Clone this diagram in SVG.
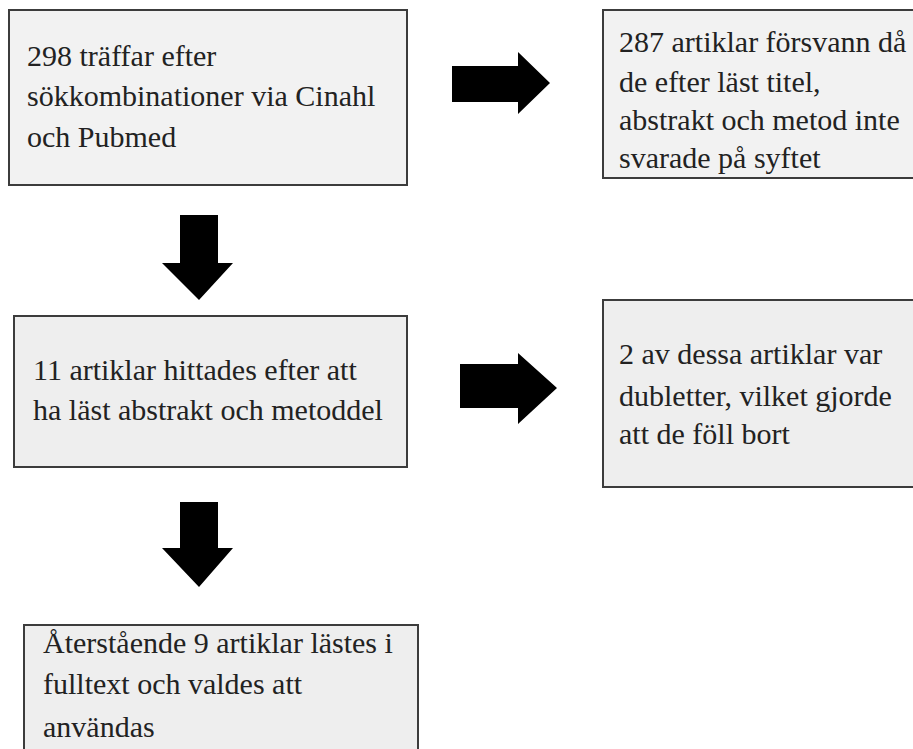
<svg xmlns="http://www.w3.org/2000/svg" width="913" height="749" viewBox="0 0 913 749">
<style>
.box{stroke:#3c3c3c;stroke-width:2}
.a{fill:#f2f2f2}
.b{fill:#eeeeee}
.t{font-family:'Liberation Serif','DejaVu Serif',serif;font-size:30px;fill:#222}
.arrow{fill:#000}
</style>
<rect width="913" height="749" fill="#fff"/>
<g id="connectors">
<path class="arrow" d="M452,66 H518 V52 L550,83 L518,114 V102 H452 Z"/>
<path class="arrow" d="M180,215 H218 V263 H233 L199,300 L162,263 H180 Z"/>
<path class="arrow" d="M460,364 H518 V353 L557,388 L518,424 V408 H460 Z"/>
<path class="arrow" d="M180,502 H218 V548 H233 L199,587 L162,548 H180 Z"/>
</g>
<g id="node1">
<rect class="box a" x="9" y="10" width="398" height="175"/>
<text class="t" x="27" y="66">298 träffar efter</text>
<text class="t" x="27" y="106">sökkombinationer via Cinahl</text>
<text class="t" x="27" y="147">och Pubmed</text>
</g>
<g id="node2">
<rect class="box a" x="603" y="10" width="320" height="168"/>
<text class="t" x="619" y="52">287 artiklar försvann då</text>
<text class="t" x="619" y="92">de efter läst titel,</text>
<text class="t" x="619" y="130">abstrakt och metod inte</text>
<text class="t" x="619" y="168">svarade på syftet</text>
</g>
<g id="node3">
<rect class="box b" x="14" y="316" width="393" height="151"/>
<text class="t" x="33" y="380">11 artiklar hittades efter att</text>
<text class="t" x="33" y="420">ha läst abstrakt och metoddel</text>
</g>
<g id="node4">
<rect class="box b" x="603" y="300" width="320" height="187"/>
<text class="t" x="619" y="364">2 av dessa artiklar var</text>
<text class="t" x="619" y="406">dubletter, vilket gjorde</text>
<text class="t" x="619" y="444">att de föll bort</text>
</g>
<g id="node5">
<rect class="box b" x="24" y="625" width="394" height="140"/>
<text class="t" x="43" y="653">Återstående 9 artiklar lästes i</text>
<text class="t" x="43" y="694">fulltext och valdes att</text>
<text class="t" x="43" y="737">användas</text>
</g>
</svg>
